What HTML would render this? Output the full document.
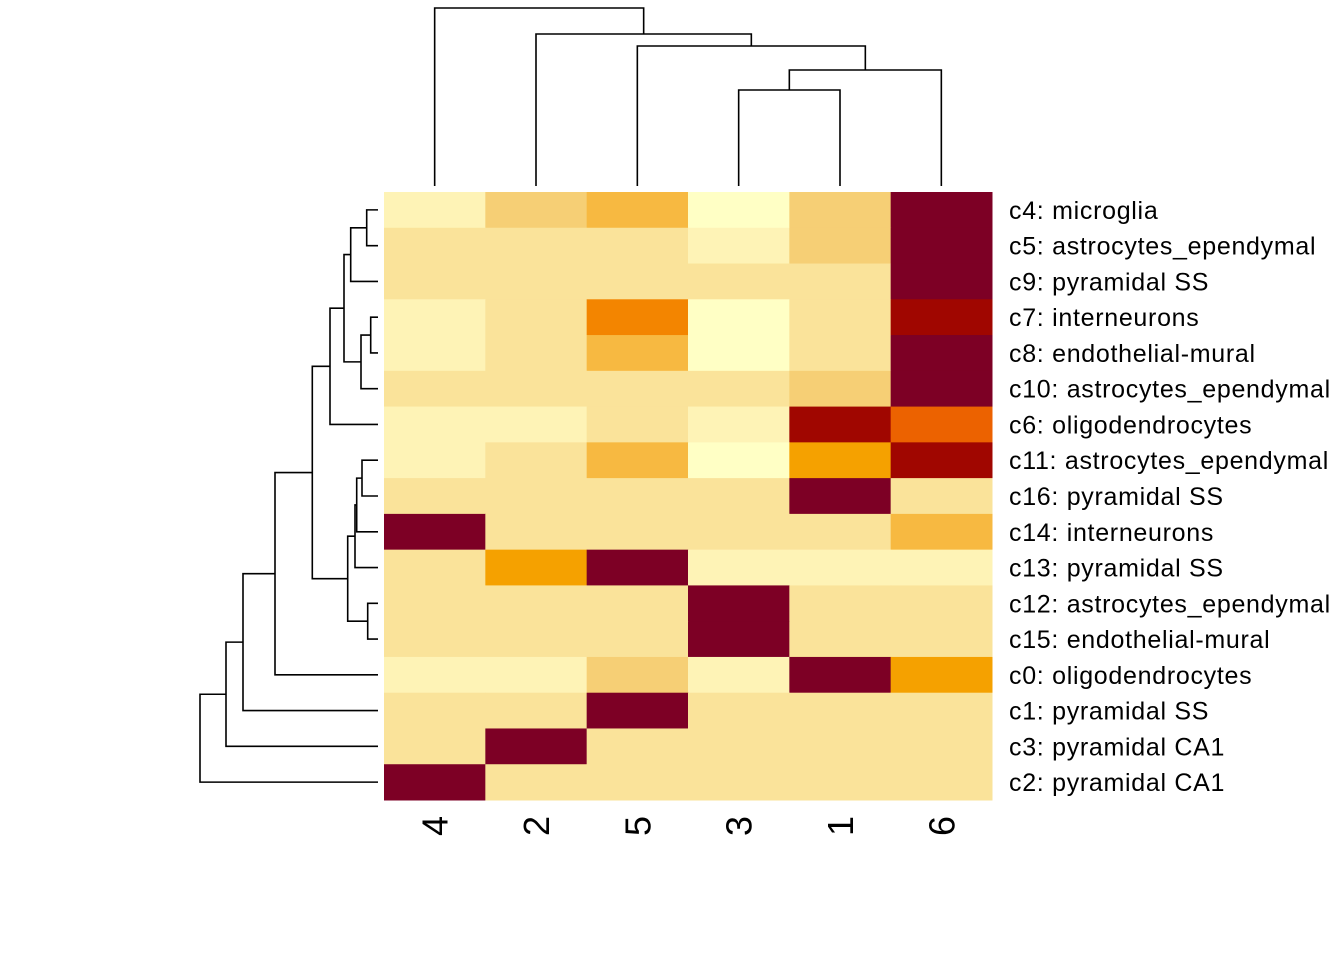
<!DOCTYPE html>
<html><head><meta charset="utf-8"><style>
html,body{margin:0;padding:0;background:#fff;}
svg{display:block;font-family:"Liberation Sans",Arial,sans-serif;}
</style></head><body>
<svg id="chart" width="1344" height="960" viewBox="0 0 1344 960" xmlns="http://www.w3.org/2000/svg">
<rect width="1344" height="960" fill="#fff"/>
<g id="cells"></g>
<g id="coldend"></g>
<g id="rowdend"></g>
<g id="rowlabels"></g>
<g id="collabels"></g>
</svg>
<script>
const colLabels = ["4","2","5","3","1","6"];
const rowLabels = ["c4: microglia","c5: astrocytes_ependymal","c9: pyramidal SS","c7: interneurons","c8: endothelial-mural","c10: astrocytes_ependymal","c6: oligodendrocytes","c11: astrocytes_ependymal","c16: pyramidal SS","c14: interneurons","c13: pyramidal SS","c12: astrocytes_ependymal","c15: endothelial-mural","c0: oligodendrocytes","c1: pyramidal SS","c3: pyramidal CA1","c2: pyramidal CA1"];
const palette = ["#FFFFC5","#FEF3B6","#FAE39A","#F6CF75","#F7B941","#F5A100","#F38500","#EC6200","#A00600","#7D0025"];
const values = [
[1,3,4,0,3,9],
[2,2,2,1,3,9],
[2,2,2,2,2,9],
[1,2,6,0,2,8],
[1,2,4,0,2,9],
[2,2,2,2,3,9],
[1,1,2,1,8,7],
[1,2,4,0,5,8],
[2,2,2,2,9,2],
[9,2,2,2,2,4],
[2,5,9,1,1,1],
[2,2,2,9,2,2],
[2,2,2,9,2,2],
[1,1,3,1,9,5],
[2,2,9,2,2,2],
[2,9,2,2,2,2],
[9,2,2,2,2,2]
];
const colMerges = [[-4,-5,90],[1,-6,70],[-3,2,46],[-2,3,34],[-1,4,8]];
const rowMerges = [
[-1,-2,366.7],[1,-3,350.7],[-4,-5,370.7],[3,-6,361],[2,4,344],[5,-7,330],
[-8,-9,362],[7,-10,356.7],[8,-11,355],[-12,-13,367.7],[9,10,347.7],
[6,11,312.3],[12,-14,275],[13,-15,243],[14,-16,226],[15,-17,200]
];
const NS="http://www.w3.org/2000/svg";
const X0=384,X1=992,Y0=192,Y1=800;
const cw=(X1-X0)/colLabels.length, rh=(Y1-Y0)/rowLabels.length;
const xc=i=>X0+cw*(i+0.5), yc=i=>Y0+rh*(i+0.5);
function mk(tag,attrs,parent){const e=document.createElementNS(NS,tag);for(const k in attrs)e.setAttribute(k,attrs[k]);parent.appendChild(e);return e;}
const cells=document.getElementById('cells');
values.forEach((row,r)=>row.forEach((v,c)=>{
  const e=mk('rect',{x:X0+c*cw,y:Y0+r*rh,width:cw+0.5,height:rh+0.5,fill:palette[v]},cells);
  
  
}));
const rl=document.getElementById('rowlabels');
rowLabels.forEach((t,r)=>{
  const e=mk('text',{x:1009,y:yc(r)+9,'font-size':25,'letter-spacing':0.7,fill:'#000'},rl);
  e.textContent=t;
  
  
});
const cl=document.getElementById('collabels');
colLabels.forEach((t,c)=>{
  const x=xc(c)+13,y=816;
  const e=mk('text',{x:x,y:y,'font-size':36,'text-anchor':'end',transform:`rotate(-90 ${x} ${y})`,fill:'#000'},cl);
  e.textContent=t;
  
  
});
const cd=document.getElementById('coldend');
const colLeafBase=186;
const cpos=[];
function cnode(id){return id<0?{p:xc(-id-1),h:colLeafBase}:cpos[id-1];}
colMerges.forEach(m=>{
  const a=cnode(m[0]),b=cnode(m[1]),h=m[2];
  const e=mk('path',{d:`M${a.p},${a.h}V${h}H${b.p}V${b.h}`,fill:'none',stroke:'#000','stroke-width':1.6},cd);
  
  
  cpos.push({p:(a.p+b.p)/2,h:h});
});
const rd=document.getElementById('rowdend');
const rowLeafBase=378;
const rpos=[];
function rnode(id){return id<0?{p:yc(-id-1),h:rowLeafBase}:rpos[id-1];}
rowMerges.forEach(m=>{
  const a=rnode(m[0]),b=rnode(m[1]),h=m[2];
  const e=mk('path',{d:`M${a.h},${a.p}H${h}V${b.p}H${b.h}`,fill:'none',stroke:'#000','stroke-width':1.6},rd);
  
  
  rpos.push({p:(a.p+b.p)/2,h:h});
});
</script>
</body></html>
